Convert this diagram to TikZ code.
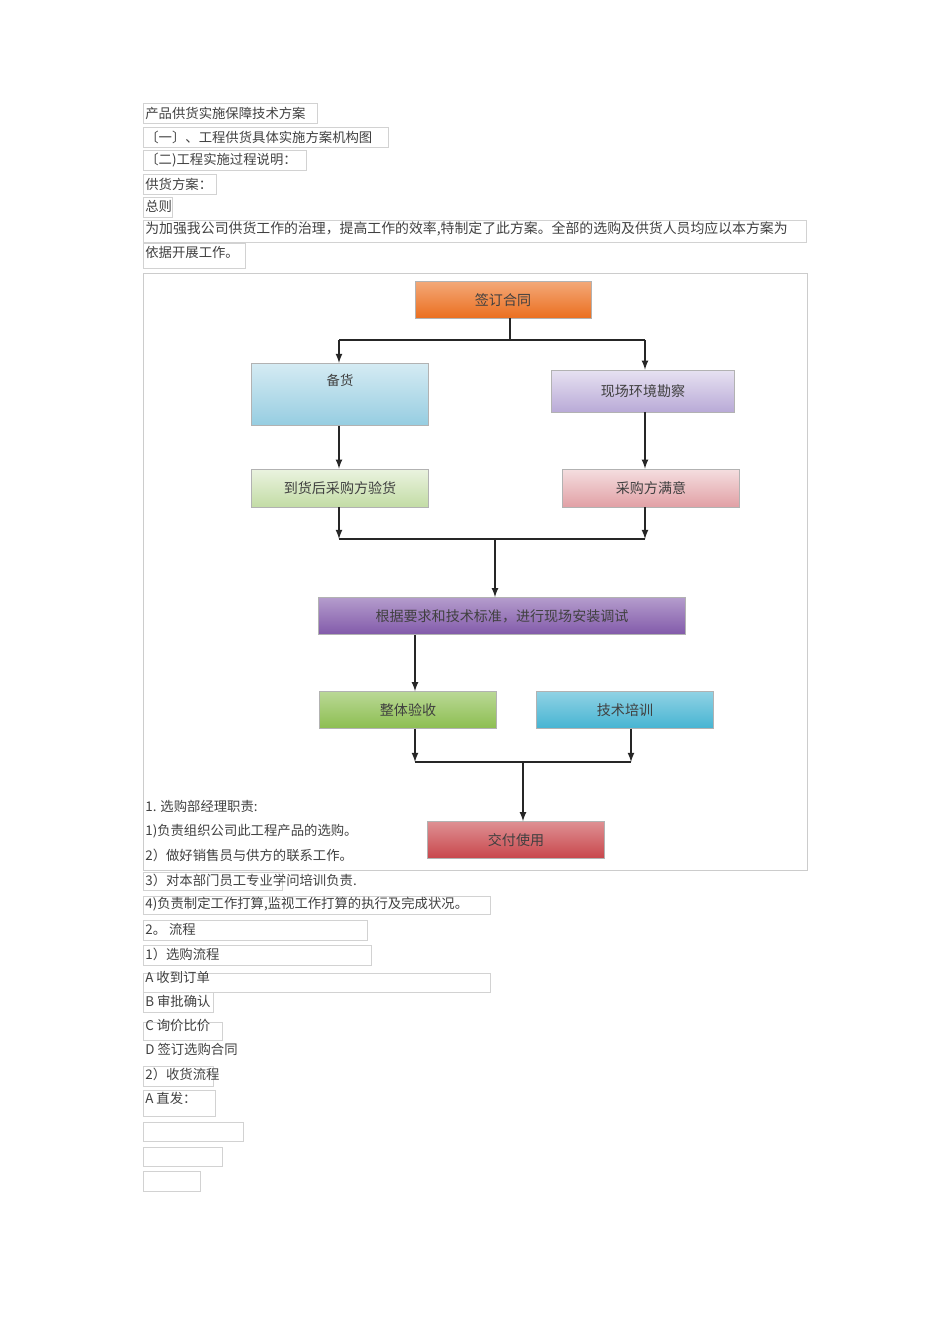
\documentclass[tikz,border=0pt]{standalone}
\usepackage{fontspec}
\setmainfont{Noto Sans CJK SC}
\usetikzlibrary{positioning,calc}
\definecolor{stockblue}{RGB}{150,205,225}
\definecolor{surveyvio}{RGB}{185,170,215}
\definecolor{checkgrn}{RGB}{195,220,165}
\definecolor{okpink}{RGB}{225,160,165}
\definecolor{setupvio}{RGB}{130,90,170}
\definecolor{acceptgrn}{RGB}{140,190,80}
\definecolor{traincyan}{RGB}{70,180,210}
\definecolor{deliverred}{RGB}{200,70,75}
\definecolor{signorg}{RGB}{235,110,30}
\tikzset{
  txt/.style={anchor=west,inner sep=0pt,font=\fontsize{7.6}{9}\selectfont,text=black!75},
  tbox/.style={draw=gray!35,very thin},
  step box/.style={draw=gray!60,thin,minimum height=0.74cm,minimum width=3.54cm,
     font=\fontsize{8}{9}\selectfont,text=black!75},
  link/.style={-latex,thick,black!85},
  wire/.style={thick,black!85}
}
\begin{document}
\begin{tikzpicture}[x=0.02cm,y=-0.02cm]
  \useasboundingbox (0,0) rectangle (950,1344);
  % heading lines
  \draw[tbox] (143,103) rectangle (317,123);
  \node[txt] (l1) at (145,113) {产品供货实施保障技术方案};
  \draw[tbox] (143,127) rectangle (388,147);
  \node[txt] (l2) at (145,137) {〔一〕、工程供货具体实施方案机构图};
  \draw[tbox] (143,150) rectangle (306,170);
  \node[txt] (l3) at (145,160) {〔二)工程实施过程说明：};
  \draw[tbox] (143,174) rectangle (216,194);
  \node[txt] (l4) at (145,184) {供货方案：};
  \draw[tbox] (143,197) rectangle (172,217);
  \node[txt] (l5) at (145,206) {总则};
  \draw[tbox] (143,220) rectangle (806,242);
  \node[txt,font=\fontsize{7.9}{9}\selectfont] (l6) at (145,229) {为加强我公司供货工作的治理，提高工作的效率,特制定了此方案。全部的选购及供货人员均应以本方案为};
  \draw[tbox] (143,243) rectangle (245,268);
  \node[txt] (l7) at (145,252) {依据开展工作。};
  % chart frame
  \draw[gray!40] (143,273) rectangle (807,870);
  % chart boxes
  \node[step box,minimum width=3.52cm,top color=signorg!60,bottom color=signorg] (sign) at (503,300) {签订合同};
  \node[step box,minimum height=1.24cm,top color=stockblue!40,bottom color=stockblue,anchor=north] (stock) at (340,363) {};
  \node[txt,anchor=center] at (340,380) {备货};
  \node[step box,minimum width=3.66cm,minimum height=0.84cm,top color=surveyvio!35,bottom color=surveyvio] (survey) at (643,391) {现场环境勘察};
  \node[step box,minimum height=0.76cm,top color=checkgrn!35,bottom color=checkgrn] (check) at (340,488) {到货后采购方验货};
  \node[step box,minimum height=0.76cm,top color=okpink!35,bottom color=okpink] (ok) at (651,488) {采购方满意};
  \node[step box,minimum width=7.34cm,top color=setupvio!60,bottom color=setupvio] (setup) at (502,616) {根据要求和技术标准，进行现场安装调试};
  \node[step box,top color=acceptgrn!60,bottom color=acceptgrn] (accept) at (408,710) {整体验收};
  \node[step box,top color=traincyan!60,bottom color=traincyan] (train) at (625,710) {技术培训};
  \node[step box,top color=deliverred!60,bottom color=deliverred] (deliver) at (516,840) {交付使用};
  % connectors
  \coordinate (s0) at (510,340);
  \draw[wire] (510,318) -- (s0);
  \draw[wire] (339,340) -- (645,340);
  \draw[link] (339,340) -- (stock.north -| 339,0);
  \draw[link] (645,340) -- (survey.north -| 645,0);
  \draw[link] (stock.south -| 339,0) -- (check.north -| 339,0);
  \draw[link] (survey.south -| 645,0) -- (ok.north -| 645,0);
  \draw[link] (check.south -| 339,0) -- (339,539);
  \draw[link] (ok.south -| 645,0) -- (645,539);
  \draw[wire] (339,539) -- (645,539);
  \draw[link] (495,539) -- (setup.north -| 495,0);
  \draw[link] (setup.south -| 415,0) -- (accept.north -| 415,0);
  \draw[link] (accept.south -| 415,0) -- (415,762);
  \draw[link] (train.south -| 631,0) -- (631,762);
  \draw[wire] (415,762) -- (631,762);
  \draw[link] (523,762) -- (deliver.north -| 523,0);
  % body lines
  \node[txt] (b1) at (145,806) {1. 选购部经理职责:};
  \node[txt] (b2) at (145,831) {1)负责组织公司此工程产品的选购。};
  \node[txt] (b3) at (145,855) {2）做好销售员与供方的联系工作。};
  \draw[tbox] (143,872) rectangle (282,890);
  \node[txt] (b4) at (145,880) {3）对本部门员工专业学问培训负责.};
  \draw[tbox] (143,896) rectangle (490,914);
  \node[txt] (b5) at (145,904) {4)负责制定工作打算,监视工作打算的执行及完成状况。};
  \draw[tbox] (143,920) rectangle (367,940);
  \node[txt] (b6) at (145,929) {2。 流程};
  \draw[tbox] (143,945) rectangle (371,965);
  \node[txt] (b7) at (145,954) {1）选购流程};
  \draw[tbox] (143,973) rectangle (490,992);
  \node[txt] (b8) at (145,977) {A 收到订单};
  \draw[tbox] (143,992) rectangle (213,1012);
  \node[txt] (b9) at (145,1001) {B 审批确认};
  \draw[tbox] (143,1022) rectangle (222,1040);
  \node[txt] (b10) at (145,1025) {C 询价比价};
  \node[txt] (b11) at (145,1049) {D 签订选购合同};
  \draw[tbox] (143,1066) rectangle (213,1086);
  \node[txt] (b12) at (145,1074) {2）收货流程};
  \draw[tbox] (143,1090) rectangle (215,1116);
  \node[txt] (b13) at (145,1098) {A 直发：};
  \draw[tbox] (143,1122) rectangle (243,1141);
  \draw[tbox] (143,1147) rectangle (222,1166);
  \draw[tbox] (143,1171) rectangle (200,1191);
\end{tikzpicture}
\end{document}
